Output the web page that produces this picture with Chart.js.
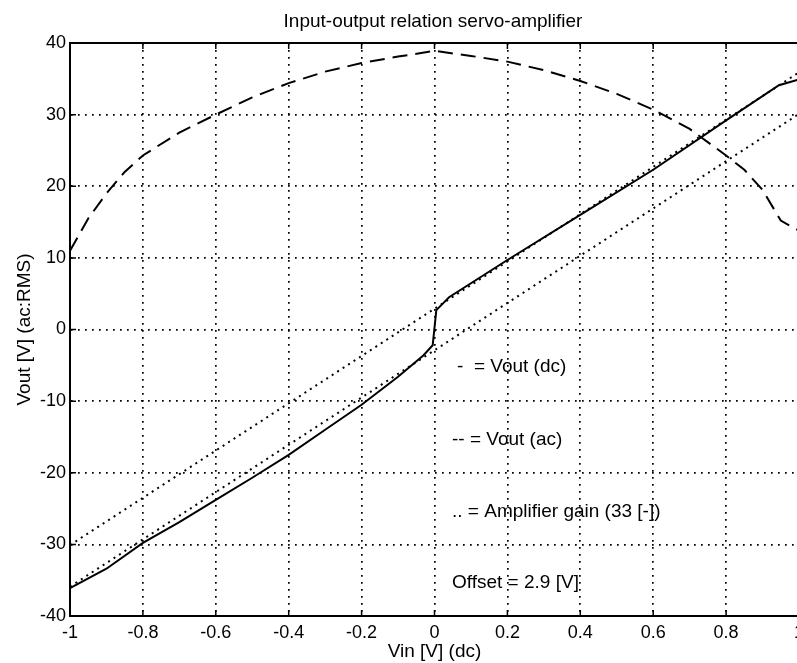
<!DOCTYPE html>
<html><head><meta charset="utf-8">
<script src="https://cdn.jsdelivr.net/npm/chart.js@4/dist/chart.umd.min.js"></script>
<style>html,body{margin:0;padding:0;overflow:hidden;background:#fff}canvas{display:block}</style>
</head><body>
<canvas id="c" width="810" height="663"></canvas>
<script>
// ---- data ----
const xTicks = [-1, -0.8, -0.6, -0.4, -0.2, 0, 0.2, 0.4, 0.6, 0.8, 1];
const yTicks = [-40, -30, -20, -10, 0, 10, 20, 30, 40];

const dcX = [-1, -0.9, -0.8, -0.7, -0.6, -0.5, -0.4, -0.3, -0.2, -0.1, -0.03, -0.005, 0.005, 0.04, 0.2, 0.4, 0.6, 0.8, 0.945, 1];
const dcY = [-36.1, -33.4, -29.8, -26.9, -23.8, -20.7, -17.5, -14.0, -10.5, -6.6, -3.6, -2.2, 2.7, 4.5, 9.7, 16.0, 22.3, 29.2, 34.1, 34.9];

const acX = [-1, -0.95, -0.9, -0.85, -0.8, -0.7, -0.6, -0.5, -0.4, -0.3, -0.2, -0.1, 0, 0.1, 0.2, 0.3, 0.4, 0.5, 0.6, 0.7, 0.8, 0.85, 0.9, 0.95, 1];
const acY = [11.0, 15.5, 19.0, 22.0, 24.3, 27.5, 30.0, 32.4, 34.4, 36.0, 37.2, 38.1, 38.9, 38.2, 37.4, 36.2, 34.7, 32.9, 30.7, 28.0, 24.3, 22.3, 19.5, 15.2, 13.8];

const gainX = [-1, 1];
const gainUpper = [-30.1, 35.9];
const gainLower = [-35.9, 30.1];

const titleText = 'Input-output relation servo-amplifier';
const xTitle = 'Vin [V] (dc)';
const yTitle = 'Vout [V] (ac:RMS)';
const notes = ['-  = Vout (dc)', '-- = Vout (ac)', '.. = Amplifier gain (33 [-])', 'Offset = 2.9 [V]'];

const FONT = '"Liberation Sans", Arial, Helvetica, sans-serif';
const pts = (xs, ys) => xs.map((x, i) => ({x, y: ys[i]}));

const extras = {
  id: 'extras',
  afterDraw(chart) {
    const {ctx, chartArea: a, scales: {x, y}} = chart;
    ctx.save();
    ctx.strokeStyle = '#000';
    ctx.lineWidth = 2;
    ctx.beginPath();
    ctx.moveTo(a.left - 1, a.top); ctx.lineTo(a.right, a.top);
    ctx.stroke();
    ctx.lineWidth = 1.5;
    ctx.beginPath();
    xTicks.forEach(v => {
      const px = x.getPixelForValue(v);
      ctx.moveTo(px, a.bottom); ctx.lineTo(px, a.bottom - 6);
      ctx.moveTo(px, a.top); ctx.lineTo(px, a.top + 6);
    });
    yTicks.forEach(v => {
      const py = y.getPixelForValue(v);
      ctx.moveTo(a.left, py); ctx.lineTo(a.left + 6, py);
    });
    ctx.stroke();
    ctx.fillStyle = '#000';
    ctx.font = '19px ' + FONT;
    ctx.textBaseline = 'middle';
    ctx.textAlign = 'center';
    ctx.fillText(titleText, 433, 22);
    ctx.textAlign = 'left';
    const notePos = [[457, 367], [452, 440], [452, 512], [452, 583]];
    notes.forEach((t, i) => ctx.fillText(t, notePos[i][0], notePos[i][1]));
    ctx.restore();
  }
};

new Chart(document.getElementById('c'), {
  type: 'scatter',
  data: {
    datasets: [
      {data: pts(dcX, dcY), showLine: true, borderColor: '#000', borderWidth: 2, pointRadius: 0, fill: false},
      {data: pts(acX, acY), showLine: true, borderColor: '#000', borderWidth: 2, borderDash: [15, 8], pointRadius: 0, fill: false},
      {data: pts(gainX, gainUpper), showLine: true, borderColor: '#000', borderWidth: 2, borderDash: [2, 4.5], pointRadius: 0, fill: false},
      {data: pts(gainX, gainLower), showLine: true, borderColor: '#000', borderWidth: 2, borderDash: [2, 4.5], pointRadius: 0, fill: false}
    ]
  },
  options: {
    responsive: false,
    animation: false,
    events: [],
    color: '#000',
    layout: {padding: {top: 43, right: 10, left: 0, bottom: 0}},
    plugins: {legend: {display: false}, tooltip: {enabled: false}, title: {display: false}},
    scales: {
      x: {
        type: 'linear', min: -1, max: 1,
        afterBuildTicks: s => { s.ticks = xTicks.map(v => ({value: v})); },
        afterFit: s => { s.height = 47; },
        ticks: {color: '#000', font: {family: FONT, size: 18}, padding: 6, maxRotation: 0, autoSkip: false, callback: v => String(v)},
        grid: {color: '#000', lineWidth: 1.7, drawTicks: false},
        border: {display: true, color: '#000', width: 2, dash: [1.7, 5.3]},
        title: {display: true, text: xTitle, color: '#000', font: {family: FONT, size: 19}, padding: {top: 0, bottom: 0}}
      },
      y: {
        type: 'linear', min: -40, max: 40,
        afterBuildTicks: s => { s.ticks = yTicks.map(v => ({value: v})); },
        afterFit: s => { s.width = 70; },
        ticks: {color: '#000', font: {family: FONT, size: 18}, padding: 4, autoSkip: false, callback: v => String(v)},
        grid: {color: '#000', lineWidth: 1.7, drawTicks: false},
        border: {display: true, color: '#000', width: 2, dash: [1.7, 5.3]},
        title: {display: true, text: yTitle, color: '#000', font: {family: FONT, size: 19}, padding: {top: 13, bottom: 0}}
      }
    }
  },
  plugins: [extras]
});
</script>
</body></html>
